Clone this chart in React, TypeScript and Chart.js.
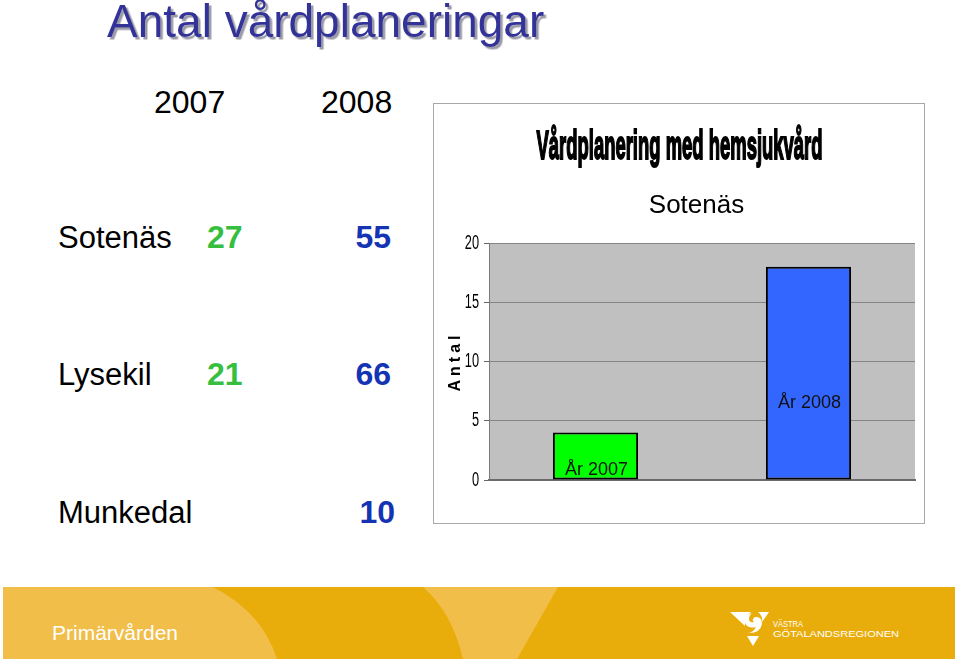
import React, { useEffect, useRef } from "react";
import { Chart, registerables } from "chart.js";

Chart.register(...registerables);

// ---------- data ----------
const categories = ["År 2007", "År 2008"];
const values = [4, 18];
const barColors = ["#00FF00", "#3366FF"];
// value (in axis units) where each in-bar label's baseline sits
const labelAt = [0.4, 6.1];
const yMin = 0;
const yMax = 20;
const yStep = 5;

const chartTitle = "Vårdplanering med hemsjukvård";
const chartSubtitle = "Sotenäs";
const yAxisTitle = "Antal";

const slideTitle = "Antal vårdplaneringar";
const tableYears = ["2007", "2008"];
const municipalities = ["Sotenäs", "Lysekil", "Munkedal"];
const counts2007: (number | null)[] = [27, 21, null];
const counts2008: (number | null)[] = [55, 66, 10];
const footerText = "Primärvården";
const logoLines = ["VÄSTRA", "GÖTALANDSREGIONEN"];

// ---------- layout ----------
const ARIAL = "'Liberation Sans', Arial, Helvetica, sans-serif";
const rowBaselines = [248, 385, 523];
const TICK_PAD = 5;
const TICK_LEN = 5;
const TICK_SQUEEZE = 0.64;

function BarChart() {
  const ref = useRef<HTMLCanvasElement | null>(null);

  useEffect(() => {
    const canvas = ref.current;
    if (!canvas) return;

    const plotBg = {
      id: "plotBg",
      beforeDraw(chart: any) {
        const { ctx, chartArea } = chart;
        ctx.save();
        ctx.fillStyle = "#C0C0C0";
        ctx.fillRect(chartArea.left, chartArea.top, chartArea.right - chartArea.left, chartArea.bottom - chartArea.top);
        ctx.restore();
        const ys: any = chart.scales.y;
        if (ys && !ys.__patched) {
          const origTitle = ys.drawTitle.bind(ys);
          ys.drawTitle = function () {
            const c = this.ctx;
            c.save();
            (c as any).letterSpacing = "4px";
            origTitle();
            c.restore();
          };
          const origLabels = ys.drawLabels.bind(ys);
          ys.drawLabels = function (area: any) {
            const c = this.ctx;
            const ax = this.right - TICK_LEN - TICK_PAD;
            c.save();
            c.translate(ax, 0);
            c.scale(TICK_SQUEEZE, 1);
            c.translate(-ax, 0);
            origLabels(area);
            c.restore();
          };
          ys.__patched = true;
        }
      },
    };

    const titles = {
      id: "titles",
      afterDraw(chart: any) {
        const { ctx } = chart;
        ctx.save();
        ctx.fillStyle = "#000";
        ctx.strokeStyle = "#000";
        ctx.textBaseline = "alphabetic";
        ctx.textAlign = "center";
        ctx.font = `bold 40px ${ARIAL}`;
        const w = ctx.measureText(chartTitle).width;
        ctx.translate(245.5, 55);
        ctx.scale(286 / w, 1);
        ctx.lineWidth = 2;
        ctx.fillText(chartTitle, 0, 0);
        ctx.strokeText(chartTitle, 0, 0);
        ctx.restore();

        ctx.save();
        ctx.fillStyle = "#000";
        ctx.textAlign = "center";
        ctx.textBaseline = "alphabetic";
        ctx.font = `26px ${ARIAL}`;
        ctx.fillText(chartSubtitle, 262.5, 109);
        ctx.restore();
      },
    };

    const barLabels = {
      id: "barLabels",
      afterDatasetsDraw(chart: any) {
        const { ctx } = chart;
        const meta = chart.getDatasetMeta(0);
        const ys = chart.scales.y;
        ctx.save();
        ctx.fillStyle = "#111";
        ctx.font = `18px ${ARIAL}`;
        ctx.textAlign = "center";
        ctx.textBaseline = "alphabetic";
        meta.data.forEach((bar: any, i: number) => {
          ctx.fillText(categories[i], bar.x + 1, ys.getPixelForValue(labelAt[i]));
        });
        ctx.restore();
      },
    };

    const chart = new Chart(canvas, {
      type: "bar",
      data: {
        labels: categories,
        datasets: [
          {
            data: values,
            backgroundColor: barColors,
            borderColor: "#000",
            borderWidth: 2,
            borderSkipped: false,
            categoryPercentage: 1,
            barPercentage: 0.4,
          },
        ],
      },
      options: {
        animation: false,
        responsive: false,
        devicePixelRatio: 1,
        layout: { padding: { top: 139, right: 9, bottom: 43, left: 0 } },
        plugins: {
          legend: { display: false },
          title: { display: false },
          tooltip: { enabled: false },
        },
        scales: {
          x: {
            ticks: { display: false },
            grid: { display: false, drawTicks: false },
            border: { display: true, color: "#6a6a6a", width: 2 },
            afterFit: (s: any) => {
              s.height = 0;
            },
          },
          y: {
            min: yMin,
            max: yMax,
            ticks: {
              stepSize: yStep,
              color: "#000",
              padding: TICK_PAD,
              font: { family: ARIAL, size: 20 },
            },
            grid: { color: "#858585", lineWidth: 1, tickLength: TICK_LEN, tickColor: "#666" },
            border: { display: true, color: "#7a7a7a", width: 1 },
            title: {
              display: true,
              text: yAxisTitle,
              color: "#000",
              font: { family: ARIAL, size: 16, weight: "bold" },
              padding: { top: 12, bottom: 0 },
            },
            afterFit: (s: any) => {
              s.width = 55;
            },
          },
        },
      },
      plugins: [plotBg, barLabels, titles],
    } as any);

    return () => chart.destroy();
  }, []);

  return (
    <canvas
      ref={ref}
      width={490}
      height={419}
      style={{ position: "absolute", left: 434, top: 104, width: 490, height: 419 }}
    />
  );
}

export default function App() {
  return (
    <div style={{ position: "absolute", left: 0, top: 0, width: 960, height: 661, background: "#fff", overflow: "hidden" }}>
      <svg width={960} height={661} style={{ position: "absolute", left: 0, top: 0 }} fontFamily={ARIAL}>
        <defs>
          <filter id="sh" x="-5%" y="-20%" width="110%" height="140%">
            <feDropShadow dx="2.5" dy="2.5" stdDeviation="0.6" floodColor="#9a9aa8" floodOpacity="1" />
          </filter>
        </defs>
        {/* slide title */}
        <text x={107} y={37} fontSize={46} fill="#333399" filter="url(#sh)">
          {slideTitle}
        </text>

        {/* table */}
        <text x={154} y={113} fontSize={32} fill="#000">{tableYears[0]}</text>
        <text x={321} y={113} fontSize={32} fill="#000">{tableYears[1]}</text>
        {municipalities.map((m, i) => (
          <g key={m}>
            <text x={58} y={rowBaselines[i]} fontSize={31} fill="#000">{m}</text>
            {counts2007[i] !== null && (
              <text x={207} y={rowBaselines[i]} fontSize={32} fontWeight="bold" fill="#36BE3F">
                {String(counts2007[i])}
              </text>
            )}
            {counts2008[i] !== null && (
              <text x={i === 2 ? 395 : 391} y={rowBaselines[i]} fontSize={32} fontWeight="bold" fill="#1434B4" textAnchor="end">
                {String(counts2008[i])}
              </text>
            )}
          </g>
        ))}

        {/* chart frame */}
        <rect x={433.5} y={103.5} width={491} height={420} fill="#fff" stroke="#a8a8a8" strokeWidth={1} />

        {/* footer */}
        <rect x={3} y={587} width={952} height={72} fill="#E9AD0B" />
        <path d="M3,587 L213,587 Q262,612 277,659 L3,659 Z" fill="#F1BE4A" />
        <path d="M423,587 L558,587 L517,659 L463,659 Q452,612 423,587 Z" fill="#F1BE4A" />
        <text x={52} y={640} fontSize={21} fill="#fff">{footerText}</text>
        {/* logo */}
        <g fill="#fff">
          <path d="M730,612 L751,612 Q744,617 745,626 Z" />
          <path d="M758,612 L769,612 L762,622 Q763,616 758,612 Z" />
          <path d="M752,613 Q743,615 745,623 Q748,629 756,627 Q753,633 747,633 Q760,634 762,624 Q762,616 755,617 Q751,620 754,622 Q750,623 749,620 Q749,615 752,613 Z" />
          <path d="M747,636 L759,636 L753,646 Z" />
        </g>
        <text x={773} y={626.5} fontSize={9.5} fill="#fff" textLength={30} lengthAdjust="spacingAndGlyphs">{logoLines[0]}</text>
        <text x={773} y={637} fontSize={9.5} fill="#fff" textLength={126} lengthAdjust="spacingAndGlyphs">{logoLines[1]}</text>
      </svg>
      <BarChart />
    </div>
  );
}
